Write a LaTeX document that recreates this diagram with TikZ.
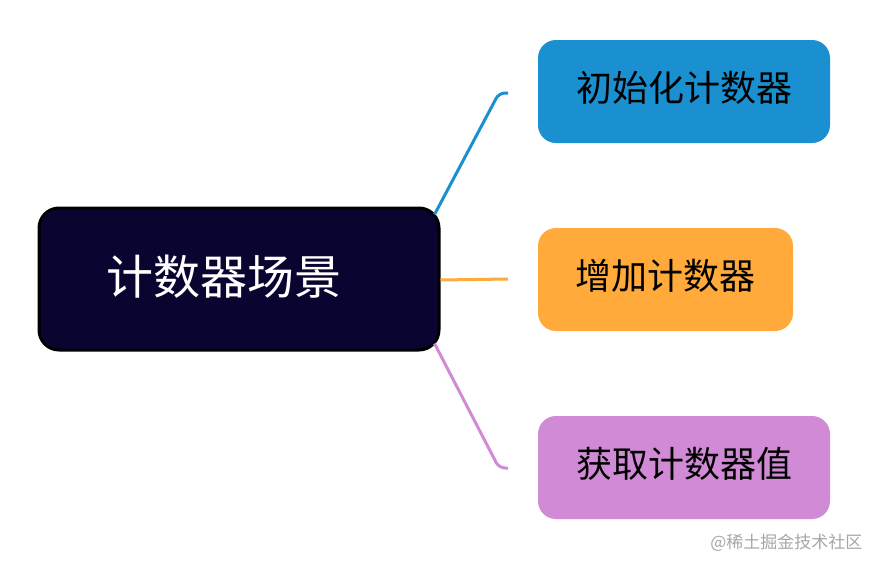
\documentclass[tikz,border=0pt]{standalone}
\usepackage{fontspec}
\newfontfamily\cjk{Noto Sans CJK SC}
\definecolor{navy}{HTML}{0A0430}
\definecolor{cblue}{HTML}{1A90D0}
\definecolor{corange}{HTML}{FFAA3A}
\definecolor{cpurple}{HTML}{D18AD6}
\begin{document}
\begin{tikzpicture}[x=1pt,y=-1pt,
  leaf/.style={rounded corners=18pt,inner sep=0pt,font=\cjk\fontsize{36}{38}\selectfont,text=black,text depth=10pt},
  conn/.style={line width=3pt,rounded corners=6pt}]
\useasboundingbox (0,0) rectangle (870,560);
\node[draw=black,line width=3pt,fill=navy,rounded corners=20pt,minimum width=400pt,minimum height=142pt,text=white,font=\cjk\fontsize{47}{50}\selectfont,inner sep=0pt,text depth=8pt] (c) at (239,279) {\hspace*{-30pt}计数器场景};
\node[leaf,fill=cblue,minimum width=292pt,minimum height=103pt] (a) at (684,91.5) {初始化计数器};
\node[leaf,fill=corange,minimum width=255pt,minimum height=103pt] (b) at (665.5,279.5) {增加计数器};
\node[leaf,fill=cpurple,minimum width=292pt,minimum height=103pt] (d) at (684,467.5) {获取计数器值};
\coordinate (ea) at (508,93);
\coordinate (eb) at (508,279);
\coordinate (ed) at (508,468);
\draw[conn,cblue] (c.north east) ++(-6,8) -- (499,93) -- (ea);
\draw[conn,corange] (c.east) ++(0,1) -- (eb);
\draw[conn,cpurple] (c.south east) ++(-6,-8) -- (499,468) -- (ed);
\node[text=gray!70,font=\cjk\fontsize{17}{18}\selectfont,anchor=east] (w) at (866,543) {@稀土掘金技术社区};
\end{tikzpicture}
\end{document}
